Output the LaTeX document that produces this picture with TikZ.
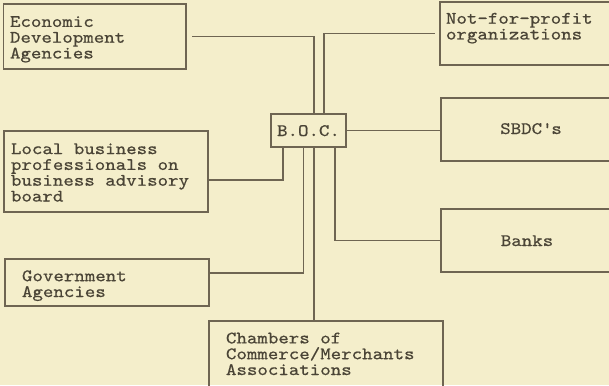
\documentclass[tikz,border=0pt]{standalone}
\usepackage{fontspec}
\newfontfamily\courfont{lmmono10-regular.otf}[FakeStretch=1.14, FakeBold=0.6]
\usetikzlibrary{calc}
\definecolor{paper}{HTML}{F4EECB}
\definecolor{ink}{HTML}{6E6552}
\definecolor{txt}{HTML}{4A4436}
\tikzset{
  box/.style={draw=ink, line width=1.3pt, inner sep=0pt, outer sep=0pt, anchor=north west},
  lbl/.style={text=txt, inner sep=0pt, outer sep=0pt, align=left, anchor=base west,
    font=\courfont\fontsize{17.5}{15.8}\selectfont},
  clbl/.style={text=txt, inner sep=0pt, outer sep=0pt, anchor=base,
    font=\courfont\fontsize{17.5}{15.8}\selectfont},
  link/.style={draw=ink, line width=1.3pt},
}
\begin{document}
\begin{tikzpicture}[x=1pt,y=-1pt]
\useasboundingbox (0,0) rectangle (609,385);
\fill[paper] (0,0) rectangle (609,385);
\begin{scope}
\clip (0,0) rectangle (609,385);
% boxes
\node[box, minimum width=182.5pt, minimum height=65pt] (eda) at (3.5,4) {};
\node[box, minimum width=185pt, minimum height=63pt] (nfp) at (440,2) {};
\node[box, minimum width=184pt, minimum height=63pt] (sbdc) at (441,98) {};
\node[box, minimum width=204pt, minimum height=81pt] (local) at (4,131) {};
\node[box, minimum width=204pt, minimum height=47pt] (gov) at (5,259) {};
\node[box, minimum width=234pt, minimum height=74pt] (chambers) at (209,321) {};
\node[box, minimum width=184pt, minimum height=63pt] (banks) at (441,209) {};
\node[box, minimum width=75pt, minimum height=33pt] (boc) at (271,114) {};
% texts (anchored at the baseline of their last line)
\node[lbl] (edat) at (10,58.5) {Economic\\Development\\Agencies};
\node[lbl] (nfpt) at (446,39.5) {Not-for-profit\\organizations};
\node[clbl] (sbdct) at (531,134) {SBDC\textquotesingle s};
\node[lbl] (localt) at (11,201.5) {Local business\\professionals on\\business advisory\\board};
\node[lbl] (govt) at (22,297) {Government\\Agencies};
\node[lbl] (chamt) at (226,375) {Chambers of\\Commerce/Merchants\\Associations};
\node[clbl] (bankst) at (527,246) {Banks};
\node[clbl] (boct) at (308.5,136) {B.O.C.};
% connectors
\coordinate (t1) at ($(boc.north west)+(43,0)$);
\coordinate (t2) at ($(boc.north west)+(53,0)$);
\coordinate (b1) at ($(boc.south west)+(12,0)$);
\coordinate (b2) at ($(boc.south west)+(32.5,0)$);
\coordinate (b3) at ($(boc.south west)+(43,0)$);
\coordinate (b4) at ($(boc.south west)+(64,0)$);
\draw[link, shorten <=6pt] (eda.east) -| (t1);
\draw[link, shorten >=5pt] (t2) |- (nfp.west);
\draw[link] (boc.east) -- (boc.east -| sbdc.west);
\draw[link] ([yshift=-8.5pt]local.east) -| (b1);
\draw[link] ([yshift=9.5pt]gov.east) -| (b2);
\draw[link] (b3) -- (b3 |- chambers.north);
\draw[link] (b4) |- (banks.west);
\end{scope}
\end{tikzpicture}
\end{document}
